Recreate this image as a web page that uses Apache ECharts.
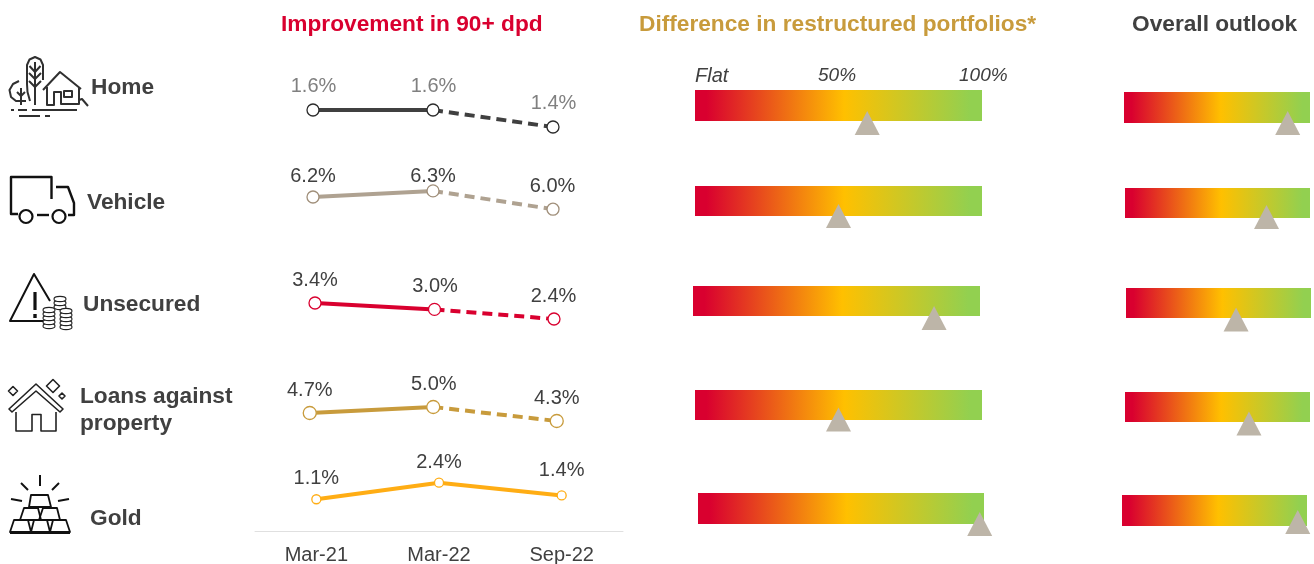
<!DOCTYPE html>
<html>
<head>
<meta charset="utf-8">
<style>html,body{margin:0;padding:0;background:#fff}#chart{width:1314px;height:564px}</style>
<script src="https://cdn.jsdelivr.net/npm/echarts@6/dist/echarts.min.js"></script>
</head>
<body>
<div id="chart"></div>
<script>
// ---- data ----
const periods = ['Mar-21', 'Mar-22', 'Sep-22'];
const homeDpd = [1.6, 1.6, 1.4];
const vehicleDpd = [6.2, 6.3, 6.0];
const unsecuredDpd = [3.4, 3.0, 2.4];
const lapDpd = [4.7, 5.0, 4.3];
const goldDpd = [1.1, 2.4, 1.4];
const restructuredDifference = [60, 50, 84, 50, 98.5];
const overallOutlook = [88, 76.5, 59.5, 67, 95];

// ---- layout and style ----
const font = '"Liberation Sans", Arial, sans-serif';
const dark = '#404040';
const lineRows = [
  {values: homeDpd, color: '#404040', edge: '#2b2b2b', text: '#808080', size: 12, dashed: true, left: 253, width: 360, top: 76, height: 85, min: 1, max: 2,
   offsets: [[0.5, -23.5], [0.5, -23.5], [0.5, -24]]},
  {values: vehicleDpd, color: '#AFA291', edge: '#A08F7A', text: dark, size: 12, dashed: true, left: 253, width: 360, top: 178.7, height: 61, min: 5.5, max: 6.5,
   offsets: [[0, -20.5], [0, -14], [-0.5, -23]]},
  {values: unsecuredDpd, color: '#D9002F', edge: '#D9002F', text: dark, size: 12, dashed: true, left: 255.25, width: 358.5, top: 293.4, height: 32, min: 2, max: 4,
   offsets: [[0, -23], [0.5, -23], [-0.5, -23]]},
  {values: lapDpd, color: '#C89B3C', edge: '#C89B3C', text: dark, size: 13, dashed: true, left: 248, width: 370.5, top: 397, height: 30, min: 4, max: 5.5,
   offsets: [[0, -23], [0.5, -22.5], [0, -23]]},
  {values: goldDpd, color: '#FFAD14', edge: '#FFAD14', text: dark, size: 9, dashed: false, left: 255, width: 368, top: 475.1, height: 55.9, min: -1.4, max: 3,
   offsets: [[0, -20.5], [0, -20.5], [0, -24.5]], axis: true}
];
const restructuredBars = [
  {left: 695, width: 287, top: 90, height: 31, drop: 17.5},
  {left: 695, width: 287, top: 186, height: 30, drop: 15},
  {left: 693, width: 287, top: 286, height: 30, drop: 17},
  {left: 695, width: 287, top: 390, height: 30, drop: 14.5},
  {left: 698, width: 286, top: 493, height: 31, drop: 15.5}
];
const outlookBars = [
  {left: 1124, width: 186, top: 92, height: 31, drop: 15.5},
  {left: 1125, width: 185, top: 188, height: 30, drop: 14},
  {left: 1126, width: 185, top: 288, height: 30, drop: 16.5},
  {left: 1125, width: 185, top: 392, height: 30, drop: 16.5},
  {left: 1122, width: 185, top: 495, height: 31, drop: 11.5}
];
const gaugeFill = new echarts.graphic.LinearGradient(0, 0, 1, 0, [
  {offset: 0, color: '#D9002F'}, {offset: 0.04, color: '#D9002F'},
  {offset: 0.52, color: '#FFC000'},
  {offset: 0.96, color: '#92D050'}, {offset: 1, color: '#92D050'}
]);

const grid = [], xAxis = [], yAxis = [], series = [];

lineRows.forEach(function (r) {
  const i = grid.length;
  grid.push({left: r.left, width: r.width, top: r.top, height: r.height, outerBoundsMode: 'none'});
  xAxis.push({
    type: 'category', gridIndex: i, data: periods, boundaryGap: true,
    show: !!r.axis,
    axisTick: {show: false},
    axisLine: {show: !!r.axis, onZero: false, lineStyle: {color: '#E0E0E0', width: 1}},
    axisLabel: {show: !!r.axis, color: dark, fontFamily: font, fontSize: 20, margin: 14}
  });
  yAxis.push({type: 'value', gridIndex: i, min: r.min, max: r.max, show: false, splitLine: {show: false}});
  const base = {type: 'line', xAxisIndex: i, yAxisIndex: i, silent: true, smooth: false};
  const solid = r.dashed ? [r.values[0], r.values[1], null] : r.values;
  series.push(Object.assign({}, base, {
    data: solid, showSymbol: false, symbol: 'none', z: 2,
    lineStyle: {color: r.color, width: 4}
  }));
  if (r.dashed) {
    series.push(Object.assign({}, base, {
      data: [null, r.values[1], r.values[2]], showSymbol: false, symbol: 'none', z: 2,
      lineStyle: {color: r.color, width: 4, type: [10, 6]}
    }));
  }
  series.push(Object.assign({}, base, {
    z: 3, symbol: 'circle', symbolSize: r.size, showSymbol: true,
    lineStyle: {opacity: 0, width: 0},
    itemStyle: {color: '#fff', borderColor: r.edge, borderWidth: 1.3},
    data: r.values.map(function (v, k) {
      return {
        value: v,
        label: {
          show: true, position: 'inside', offset: r.offsets[k],
          formatter: v.toFixed(1) + '%', color: r.text, fontFamily: font, fontSize: 20
        }
      };
    })
  }));
});

function addGauge(bar, value) {
  const i = grid.length;
  grid.push({left: bar.left, width: bar.width, top: bar.top, height: bar.height, outerBoundsMode: 'none'});
  xAxis.push({type: 'value', gridIndex: i, min: 0, max: 100, show: false, splitLine: {show: false}});
  yAxis.push({type: 'category', gridIndex: i, data: ['level'], show: false});
  series.push({
    type: 'bar', xAxisIndex: i, yAxisIndex: i, silent: true, barWidth: '100%',
    data: [100], itemStyle: {color: gaugeFill}, z: 2
  });
  series.push({
    type: 'scatter', xAxisIndex: i, yAxisIndex: i, silent: true, clip: false, z: 4,
    symbol: 'triangle', symbolSize: [25, 24], symbolOffset: [0, bar.drop],
    itemStyle: {color: '#BDB5A8', opacity: 1},
    data: [[value, 'level']]
  });
}
restructuredBars.forEach(function (b, k) { addGauge(b, restructuredDifference[k]); });
outlookBars.forEach(function (b, k) { addGauge(b, overallOutlook[k]); });

// ---- text ----
function txt(s, x, y, size, color, weight, style) {
  return {type: 'text', x: x, y: y, silent: true, z: 10, style: {
    text: s, fill: color, fontFamily: font, fontSize: size, fontWeight: weight || 'normal',
    fontStyle: style || 'normal', verticalAlign: 'middle', align: 'left'
  }};
}
const texts = [
  txt('Improvement in 90+ dpd', 281, 24.5, 22.7, '#D9002F', 'bold'),
  txt('Difference in restructured portfolios*', 639, 24.5, 22.7, '#C89B3C', 'bold'),
  txt('Overall outlook', 1132, 24.5, 22.7, dark, 'bold'),
  txt('Flat', 695, 76, 20, dark, 'normal', 'italic'),
  txt('50%', 818, 76, 19, dark, 'normal', 'italic'),
  txt('100%', 959, 76, 19, dark, 'normal', 'italic'),
  txt('Home', 91, 87.5, 22.7, dark, 'bold'),
  txt('Vehicle', 87, 202.5, 22.7, dark, 'bold'),
  txt('Unsecured', 83, 304.5, 22.7, dark, 'bold'),
  txt('Loans against', 80, 396.5, 22.7, dark, 'bold'),
  txt('property', 80, 423.5, 22.7, dark, 'bold'),
  txt('Gold', 90, 518.5, 22.7, dark, 'bold')
];

// ---- icons (decoration only) ----
function strokeStyle(w, color) {
  return {fill: 'none', stroke: color || '#1a1a1a', lineWidth: w || 1.6, lineJoin: 'round'};
}
function poly(pts, w, color, closed) {
  const points = [];
  for (let k = 0; k < pts.length; k += 2) points.push([pts[k], pts[k + 1]]);
  return {type: closed ? 'polygon' : 'polyline', silent: true, z: 10, shape: {points: points}, style: strokeStyle(w, color)};
}
function ring(cx, cy, r, w, color) {
  return {type: 'circle', silent: true, z: 10, shape: {cx: cx, cy: cy, r: r}, style: strokeStyle(w, color)};
}
function coinStack(cx, top, rows) {
  const out = [];
  for (let k = 0; k <= rows; k++) {
    out.push({type: 'ellipse', silent: true, z: 10 + rows - k, shape: {cx: cx, cy: top + 3 + k * 4, rx: 6, ry: 2.6},
      style: {fill: '#fff', stroke: '#222', lineWidth: 1.1}});
  }
  return out;
}
const ink = '#303030';
const icons = [
  // home
  poly([35, 105, 35, 62], 2, ink),
  poly([29.5, 66, 35, 72, 40.5, 66], 2, ink),
  poly([29, 73, 35, 79, 41, 73], 2, ink),
  poly([29, 81, 35, 87, 41, 81], 2, ink),
  poly([30, 101, 27.5, 92, 27, 84, 27, 65, 29.5, 59.5, 35, 57, 40.5, 59.5, 43, 65, 43, 80], 2, ink),
  poly([19, 81, 13, 84, 9.5, 90, 11, 97, 16, 101, 26, 101], 2, ink),
  poly([21, 105, 21, 88], 2, ink),
  poly([17, 92, 21, 96, 25, 92], 2, ink),
  poly([43, 90, 60, 72, 81, 89], 2, ink),
  poly([47, 87, 47, 105, 54, 105, 54, 92, 61, 92, 61, 104, 79, 104, 79, 88], 2, ink),
  poly([64, 91, 72, 91, 72, 97, 64, 97], 2, ink, true),
  poly([79, 100, 82, 99, 88, 106], 2, ink),
  poly([11, 110, 14, 110], 2, ink),
  poly([18, 110, 27, 110], 2, ink),
  poly([32, 110, 77, 110], 2, ink),
  poly([19, 116, 40, 116], 2, ink),
  poly([45, 116, 50, 116], 2, ink),
  // vehicle
  poly([18, 214, 11, 214, 11, 177, 51.5, 177, 51.5, 199], 2.4, '#111'),
  poly([56, 187, 68, 187, 74, 203, 74, 215, 68, 215], 2.4, '#111'),
  poly([37, 215, 49, 215], 2.4, '#111'),
  ring(26, 216.5, 6.5, 2.2, '#111'),
  ring(59, 216.5, 6.5, 2.2, '#111'),
  // unsecured
  poly([43, 321, 10, 321, 34, 274, 50, 301], 2, '#111'),
  poly([35, 292, 35, 310], 3.2, '#111'),
  poly([35, 314, 35, 318], 3.4, '#111')
].concat(
  coinStack(60, 296, 2), coinStack(49, 307, 4), coinStack(66, 308, 4),
  [
  // loans against property
  poly([9, 409, 36, 384, 63, 409, 60, 412, 36, 391, 12, 412], 1.6, '#222', true),
  poly([16, 412, 16, 431, 32, 431, 32, 414.5, 41, 414.5, 41, 431, 56, 431, 56, 412], 1.6, '#222'),
  poly([13, 386.5, 17.5, 391, 13, 395.5, 8.5, 391], 1.6, '#222', true),
  poly([53, 379.5, 59.5, 386, 53, 392.5, 46.5, 386], 1.6, '#222', true),
  poly([62, 393, 65, 396, 62, 399, 59, 396], 1.6, '#222', true),
  // gold
  poly([40, 475, 40, 486], 2, '#111'),
  poly([21, 483, 28, 490], 2, '#111'),
  poly([59, 483, 52, 490], 2, '#111'),
  poly([11, 499, 22, 501], 2, '#111'),
  poly([69, 499, 58, 501], 2, '#111'),
  poly([31, 495, 48, 495, 51, 507, 29, 507], 1.8, '#111', true),
  poly([24, 508, 38, 508, 41, 520, 20, 520], 1.8, '#111', true),
  poly([43, 508, 57, 508, 60, 520, 39, 520], 1.8, '#111', true),
  poly([14, 520, 28, 520, 31, 532, 10, 532], 1.8, '#111', true),
  poly([34, 520, 47, 520, 50, 532, 31, 532], 1.8, '#111', true),
  poly([53, 520, 66, 520, 70, 532, 50, 532], 1.8, '#111', true),
  poly([10, 533, 70, 533], 2, '#111')
]);

const chart = echarts.init(document.getElementById('chart'), null, {renderer: 'canvas'});
chart.setOption({
  animation: false,
  backgroundColor: '#ffffff',
  tooltip: {show: false},
  legend: {show: false},
  grid: grid, xAxis: xAxis, yAxis: yAxis, series: series,
  graphic: {elements: texts.concat(icons)}
});
</script>
</body>
</html>
